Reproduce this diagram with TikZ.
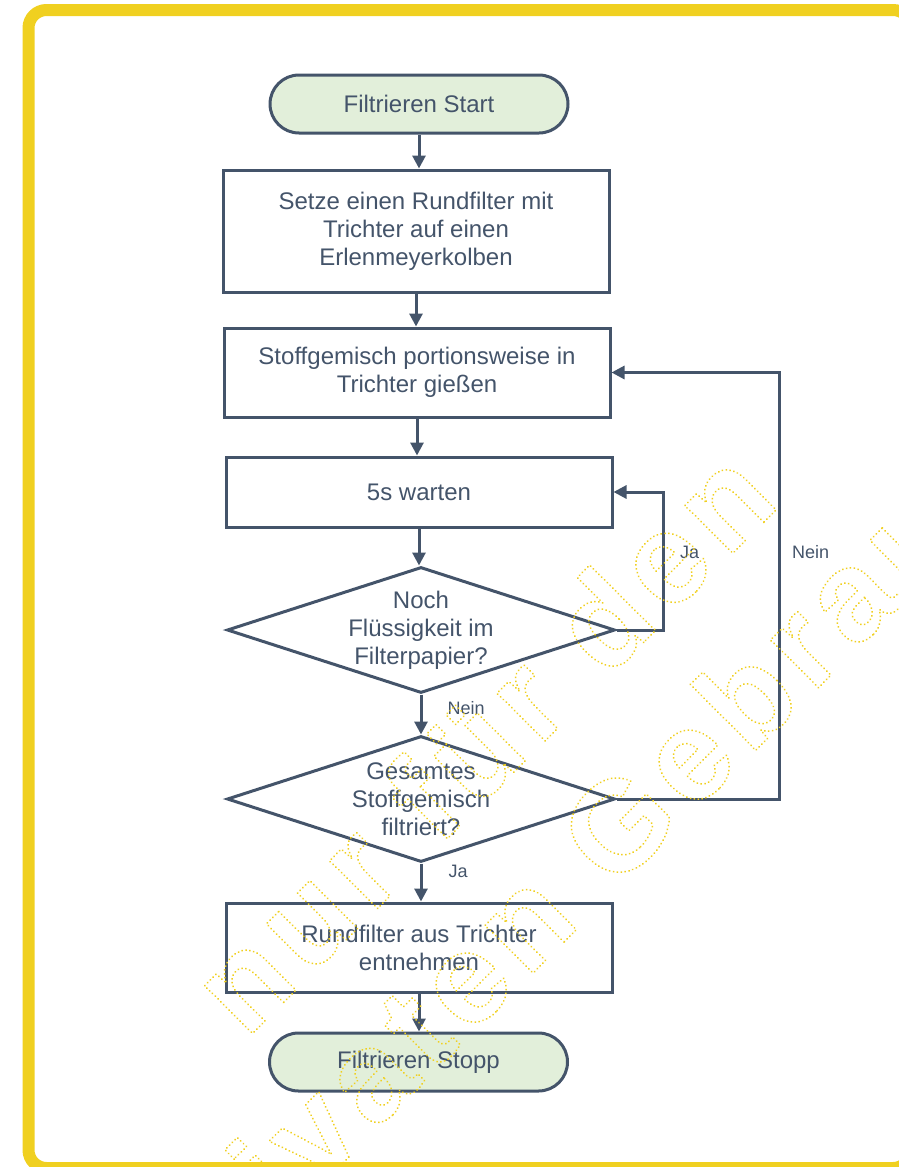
\documentclass[tikz,border=0pt]{standalone}
\usepackage{fontspec}
\setmainfont{Liberation Sans}
\newfontfamily\stampfont[LetterSpace=8]{Liberation Sans}
\usetikzlibrary{shapes.geometric, arrows.meta, positioning}
\definecolor{slate}{RGB}{68,84,106}
\definecolor{paleleaf}{RGB}{226,239,218}
\definecolor{gold}{RGB}{240,208,32}
% dotted outline for the stamp letters (pdf text render mode 1)
\newcommand{\dotsoutline}{\special{pdf:literal direct q 1 Tr 0.941 0.816 0.125 RG 2.1 w 1 J 1 j [0 3.9] 0 d}}
\newcommand{\dotsoff}{\special{pdf:literal direct 0 Tr Q}}

\tikzset{
  terminal/.style={draw=slate, fill=paleleaf, line width=3pt, rounded corners=29pt,
    minimum width=298pt, minimum height=58pt, inner sep=0pt, text=slate},
  process/.style={draw=slate, line width=3pt, minimum width=386pt, inner sep=0pt,
    align=center, text=slate},
  decision/.style={draw=slate, diamond, line width=3pt, minimum width=388pt,
    minimum height=126pt, inner sep=0pt},
  flowline/.style={draw=slate, line width=3pt, -{Triangle[length=13pt, width=13pt]}},
  answer/.style={font=\fontsize{18}{20}\selectfont, text=slate, inner sep=0pt},
  stamp/.style={font=\stampfont\bfseries\fontsize{128}{150}\selectfont, text=gold,
    inner sep=0pt, rotate=45, anchor=base}
}

\begin{document}
\begin{tikzpicture}[x=1pt, y=-1pt, font=\fontsize{24}{28}\selectfont]
  \useasboundingbox (0,0) rectangle (899,1167);
  \clip (0,0) rectangle (899,1167);

  % Yellow frame, cut off at the right and bottom
  \draw[gold, line width=12pt, rounded corners=18pt] (28.5,10) rectangle (911,1168);

  % Flowchart steps
  \node[terminal] (start) at (419,104) {Filtrieren Start};
  \node[process, minimum height=122pt] (setze) at (416,231)
    {Setze einen Rundfilter mit\\Trichter auf einen\\Erlenmeyerkolben};
  \node[process, minimum height=89pt] (stoff) at (417,372.5)
    {Stoffgemisch portionsweise in\\Trichter gießen};
  \node[process, minimum height=70pt] (warten) at (419,492) {5s warten};
  \node[decision, label={[align=center, text=slate]center:Noch\\Flüssigkeit im\\Filterpapier?}]
    (noch) at (421,630) {};
  \node[decision, label={[align=center, text=slate]center:Gesamtes\\Stoffgemisch\\filtriert?}]
    (gesamt) at (421,799) {};
  \node[process, minimum height=89pt] (entnehmen) at (419,947.5)
    {Rundfilter aus Trichter\\entnehmen};
  \node[terminal] (stop) at (418.5,1062) {Filtrieren Stopp};

  % Connectors
  \draw[flowline] (start) -- (start |- setze.north);
  \draw[flowline] (setze) -- (setze |- stoff.north);
  \draw[flowline] (stoff) -- (stoff |- warten.north);
  \draw[flowline] (warten) -- (warten |- noch.north);
  \draw[flowline] (noch) -- node[answer, pos=0.33, right=25pt] (neinmid) {Nein} (noch |- gesamt.north);
  \draw[flowline] (gesamt) -- node[answer, pos=0.2, right=26pt] (jalow) {Ja} (gesamt |- entnehmen.north);
  \draw[flowline] (entnehmen) -- (entnehmen |- stop.north);

  % Loops back
  \draw[flowline] (noch.east) -- ++(47,0) |- node[answer, pos=0.28, right=15pt] (jaloop) {Ja} (warten.east);
  \draw[flowline] (gesamt.east) -- ++(163,0) |- node[answer, pos=0.29, right=11pt] (neinloop) {Nein} (stoff.east);

  % Watermark stamp
  \node[stamp] (stampa) at (514,772) {\dotsoutline nur für den\dotsoff};
  \node[stamp] (stampb) at (633.5,872.5) {\dotsoutline privaten Gebrauch\dotsoff};
\end{tikzpicture}
\end{document}
